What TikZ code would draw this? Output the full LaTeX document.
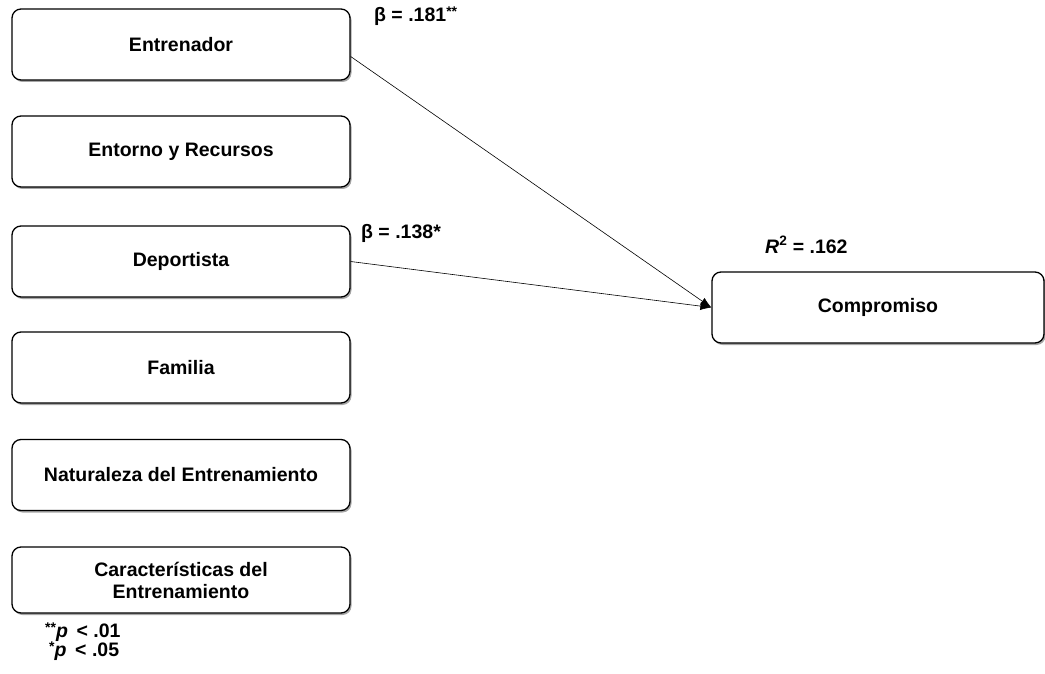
\documentclass[tikz,border=0pt]{standalone}
\usepackage{fontspec}
\setmainfont{Liberation Sans}
\usetikzlibrary{shadows,arrows.meta}
\newcommand{\smallast}[1]{\raisebox{4.5pt}{\fontsize{14}{14}\selectfont #1}}
\begin{document}
\begin{tikzpicture}[x=1pt,y=-1pt,
  box/.style={draw=black,line width=1.3pt,rounded corners=9pt,fill=white,
    minimum width=338pt,minimum height=71pt,align=center,
    font=\fontsize{19.5}{22}\selectfont\bfseries,
    drop shadow={shadow xshift=1.5pt,shadow yshift=-2pt,opacity=0.35,fill=black}},
  lbl/.style={font=\fontsize{19.5}{22}\selectfont\bfseries,inner sep=0pt},
  conn/.style={draw=black,line width=0.6pt,-{Latex[length=11pt,width=8pt]}}]
\useasboundingbox (0,0) rectangle (1045,674);
\node[box] (e1) at (181,44.5) {Entrenador};
\node[box] (e2) at (181,151.5) {Entorno y Recursos};
\node[box] (e3) at (181,261.5) {Deportista};
\node[box] (e4) at (181,367.5) {Familia};
\node[box] (e5) at (181,475) {Naturaleza del Entrenamiento};
\node[box,minimum height=66pt] (e6) at (181,580) {Características del\\Entrenamiento};
\node[box,minimum width=332pt] (c) at (878,307.5) {Compromiso};
\draw[conn] ([yshift=-12pt]e1.east) -- (c.west);
\draw[conn] (e3.east) -- (c.west);
\node[lbl,anchor=west] (b1) at (374,16) {β = .181\smallast{**}};
\node[lbl,anchor=west] (b2) at (361,233) {β = .138*};
\node[lbl,anchor=west] (r2) at (765,245) {\textit{R}\textsuperscript{2} = .162};
\node[lbl,anchor=west] (n1) at (45,632) {\smallast{**}\textit{p}\, < .01};
\node[lbl,anchor=west] (n2) at (49,651) {\smallast{*}\textit{p}\, < .05};
\end{tikzpicture}
\end{document}
